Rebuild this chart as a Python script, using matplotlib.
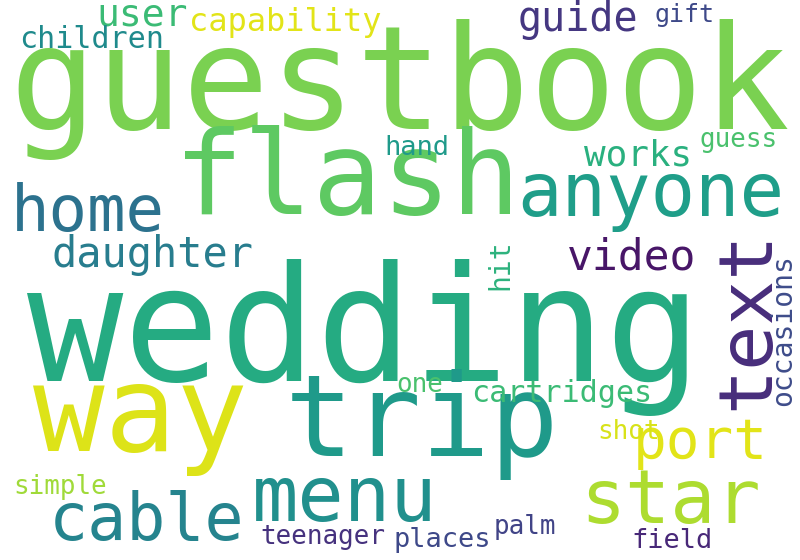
import matplotlib
matplotlib.use("Agg")
import matplotlib.pyplot as plt

words = ["guestbook","wedding","flash","anyone","home","text","way","trip","menu","cable",
         "star","port","daughter","video","guide","user","capability","children","gift","works",
         "hand","guess","hit","occasions","one","cartridges","shot","simple","palm","teenager",
         "places","field"]
sizes = [144,160,115,74,64,75,119,114,77,65,
         75,56,42,43,40,38,32,30,25,36,
         27,26,28,28,26,30,26,26,26,26,
         27,27]
colors = ["#7ad151","#25ab82","#5ec962","#1f9e89","#2c728e","#472d7b","#dde318","#1f9a8a","#21908d","#25848e",
          "#addc30","#e2e418","#287d8e","#481668","#453781","#3bbb75","#e2e418","#1f8a8c","#3e4989","#2ab07f",
          "#1f9a8a","#4ac16d","#2db27d","#3e4c8a","#4ac16d","#3bbb75","#d8e219","#a0da39","#414487","#46327e",
          "#3e4989","#482878"]
xs = [400,364,347,651,88,748,140,422,345,147,670,700,153,632,578,142,285,92,685,638,
      417,739,500,783,420,562,629,60,525,323,442,672]
ys = [90,338,182,195,213,320,418,425,500,522,503,443,255,258,20,15,22,40,15,155,
      148,140,265,330,385,393,432,487,527,537,540,541]
rot = [0,0,0,0,0,90,0,0,0,0,0,0,0,0,0,0,0,0,0,0,0,0,90,90,0,0,0,0,0,0,0,0]

fig = plt.figure(figsize=(8,5.6), dpi=100)
ax = fig.add_axes([0,0,1,1])
ax.set_xlim(0,800); ax.set_ylim(560,0); ax.axis("off")
for w,s,c,x,y,r in zip(words,sizes,colors,xs,ys,rot):
    ax.text(x,y,w,fontsize=s*0.72,color=c,family="DejaVu Sans Mono",
            ha="center",va="center",rotation=r)
fig.savefig("out.png",dpi=100,facecolor="white")
